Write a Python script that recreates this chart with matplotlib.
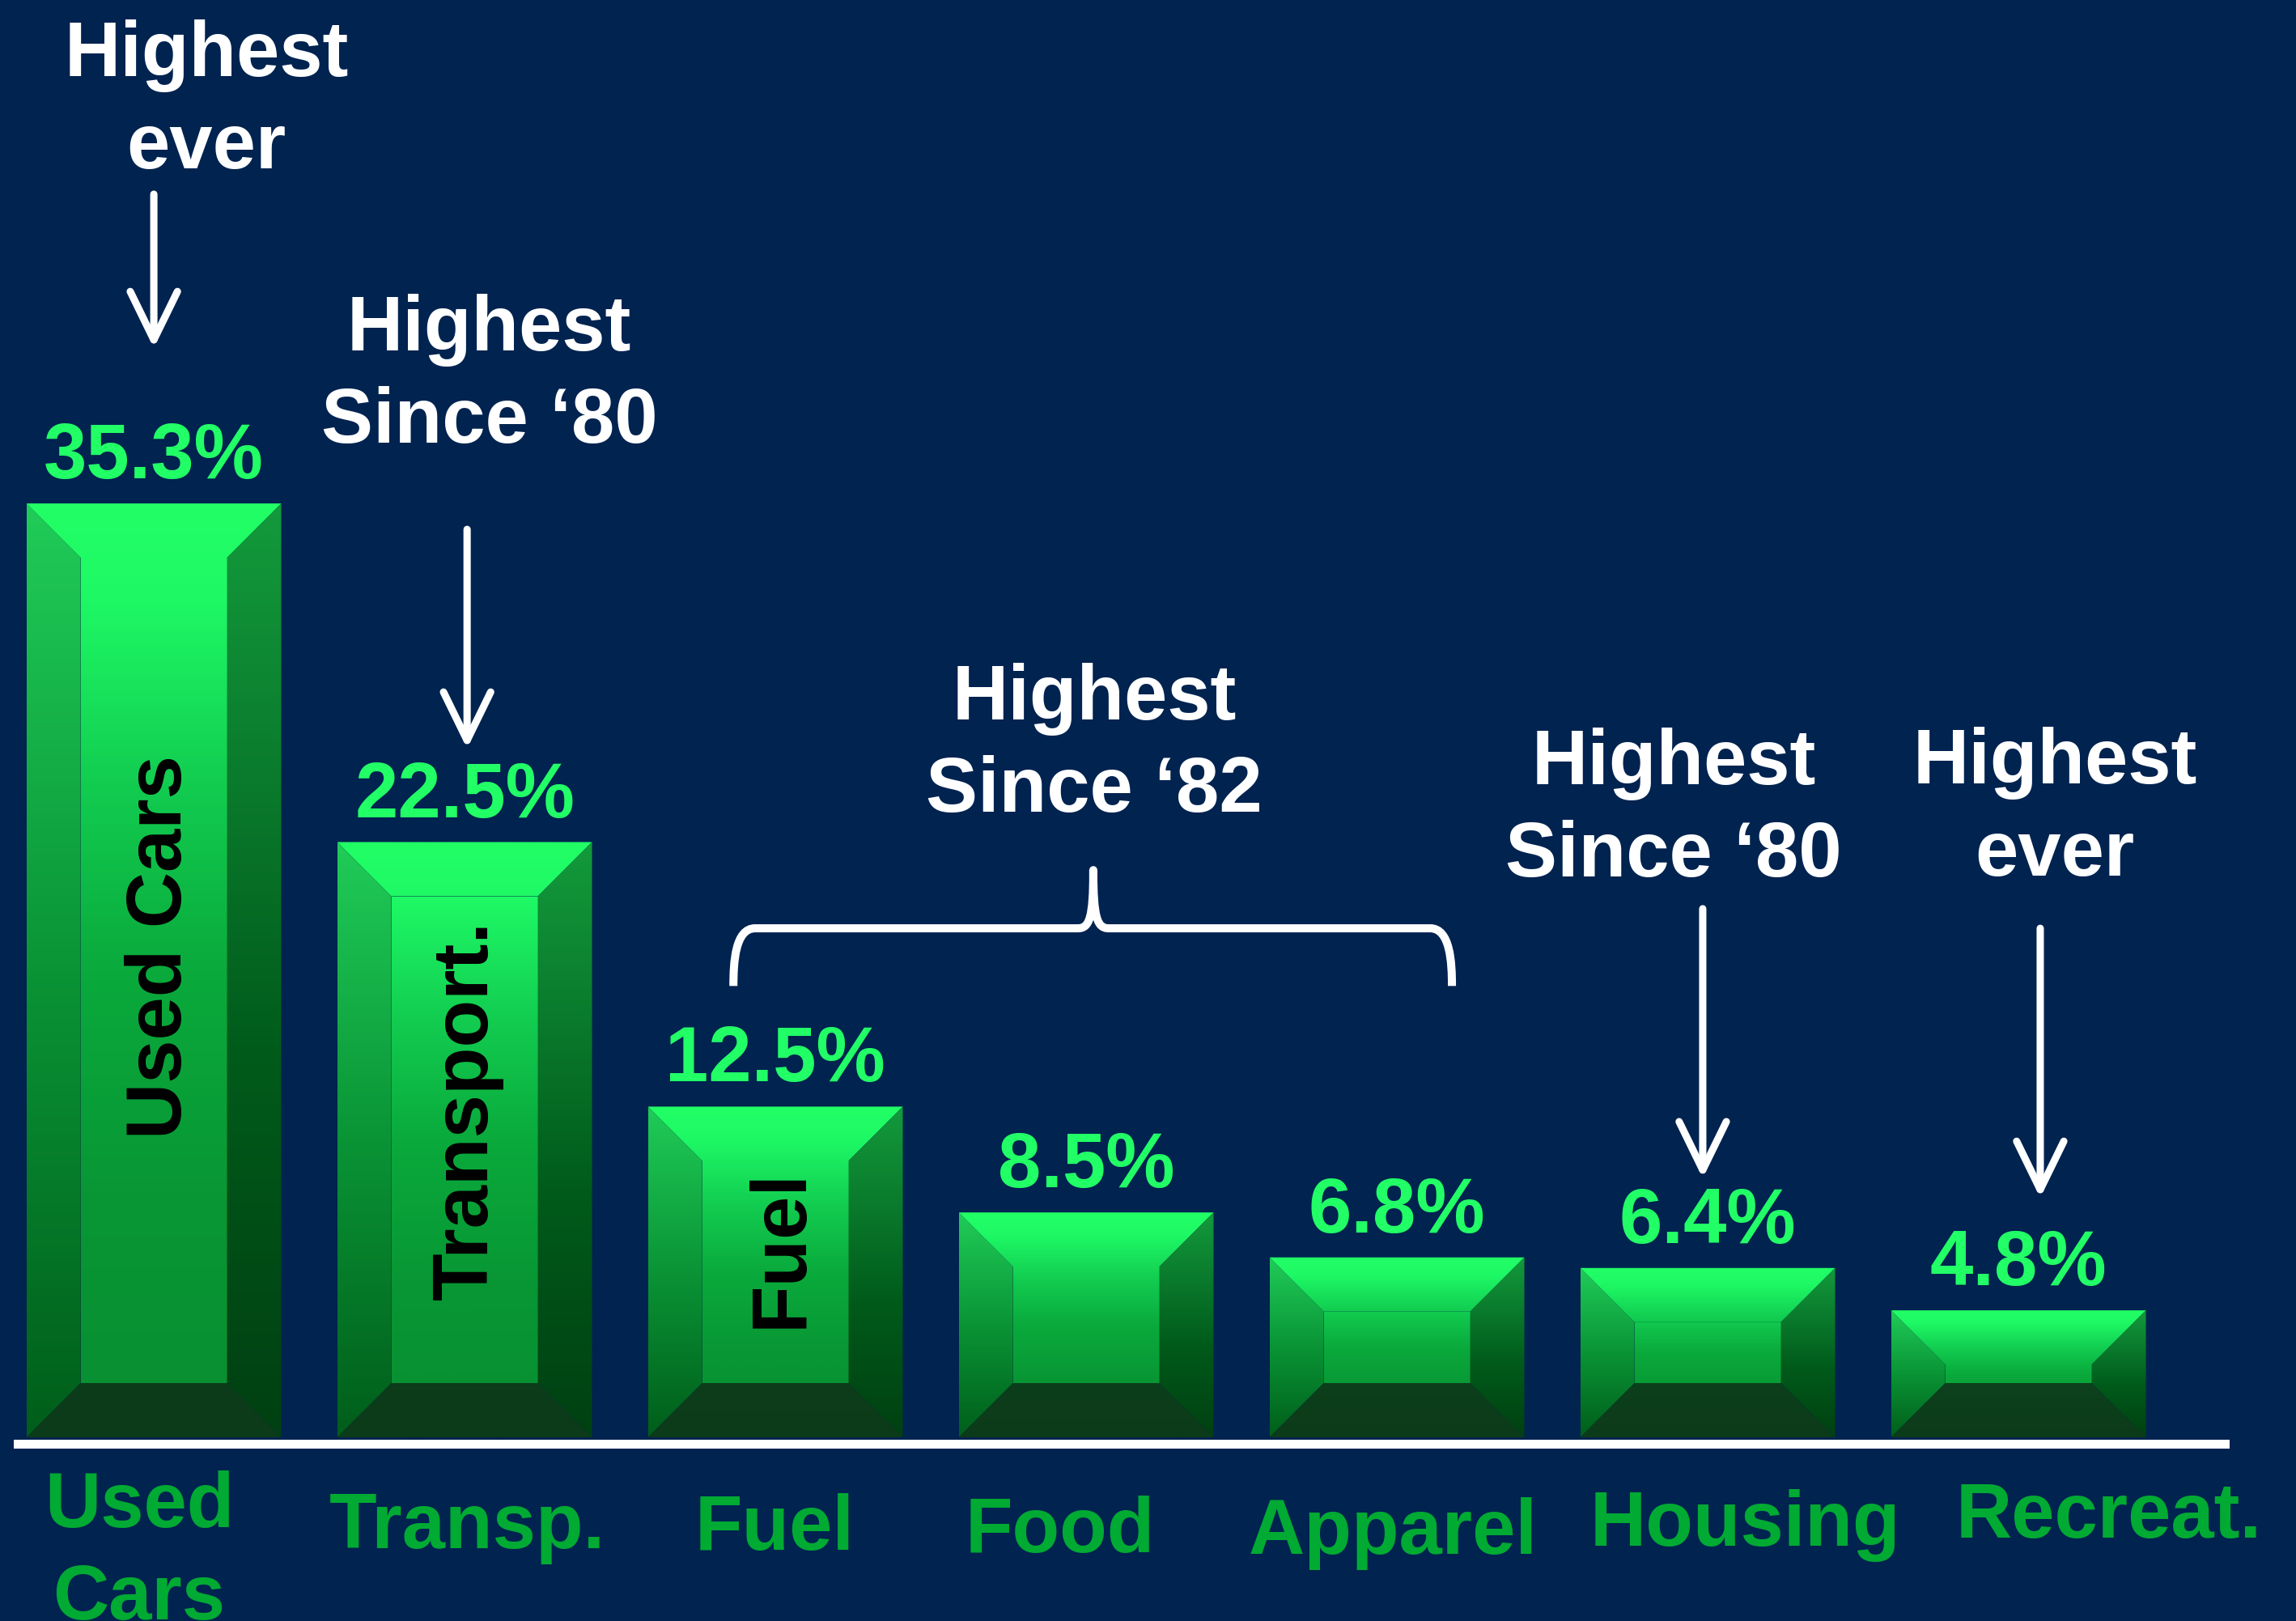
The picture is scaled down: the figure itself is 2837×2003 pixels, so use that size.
import numpy as np
import matplotlib
matplotlib.use('Agg')
import matplotlib.pyplot as plt
from matplotlib.patches import Polygon, PathPatch
from matplotlib.path import Path
from matplotlib.colors import LinearSegmentedColormap

plt.rcParams['font.family'] = ['Liberation Sans', 'DejaVu Sans']

# data
categories = ['Used\nCars', 'Transp.', 'Fuel', 'Food', 'Apparel', 'Housing', 'Recreat.']
values = [35.3, 22.5, 12.5, 8.5, 6.8, 6.4, 4.8]
value_labels = ['35.3%', '22.5%', '12.5%', '8.5%', '6.8%', '6.4%', '4.8%']
inner_labels = ['Used Cars', 'Transport.', 'Fuel', '', '', '', '']
notes = ['Highest\never', 'Highest\nSince \u201880', 'Highest\nSince \u201882',
         'Highest\nSince \u201880', 'Highest\never']

# layout (data units: x = bar index, y = percent)
note_pos = [(0.17, 51.45), (1.08, 41.08), (3.026, 27.13), (4.89, 24.69), (6.117, 24.72)]
arrows = [(0.0, 46.99, 41.17), (1.008, 34.32, 26.03), (4.984, 19.98, 9.79), (6.07, 19.24, 9.05)]
cat_dx = [-0.047, 0.008, -0.003, -0.083, -0.013, 0.12, 0.29]
cat_base = [-3.40, -4.19, -4.25, -4.34, -4.40, -4.10, -3.79]
inner_dx = [0.089, 0.073, 0.086]
inner_y = [18.54, 12.36, 7.15]
line_step = 3.49

bg = '#002350'
val_green = '#22FF66'
cat_green = '#00AA33'
fs = 69
bar_w = 0.82
bev_x = 0.1745
bev_y = 2.05

cm_center = LinearSegmentedColormap.from_list('c', [(0, '#088F32'), (0.25, '#089634'), (0.5, '#0AAA3C'),
                                                    (0.7, '#12CC50'), (0.9, '#1EF865'), (1, '#22FF66')])
cm_left = LinearSegmentedColormap.from_list('l', [(0, '#005E1A'), (0.5, '#0A9436'), (1, '#20CC58')])
cm_right = LinearSegmentedColormap.from_list('r', [(0, '#004012'), (0.4, '#005A1A'), (0.7, '#0A7A2C'), (1, '#139A3C')])
cm_bottom = LinearSegmentedColormap.from_list('b', ['#0C3B1A', '#0F4820'])
grad = np.linspace(0, 1, 256)[:, None]

fig = plt.figure(figsize=(28.37, 20.03), dpi=100, facecolor=bg)
ax = fig.add_axes([0, 0, 1, 1])
ax.set_facecolor(bg)
ax.axis('off')


def face(pts, cmap, x0, x1, h):
    patch = Polygon(pts, closed=True, facecolor='none', edgecolor='none')
    ax.add_patch(patch)
    im = ax.imshow(grad, cmap=cmap, extent=[x0, x1, 0, h], origin='lower',
                   aspect='auto', interpolation='bilinear', zorder=2)
    im.set_clip_path(patch)


for i, h in enumerate(values):
    x0, x1 = i - bar_w / 2, i + bar_w / 2
    ix0, ix1 = x0 + bev_x, x1 - bev_x
    iy0, iy1 = bev_y, h - bev_y
    face([(x0, h), (x1, h), (ix1, iy1), (ix0, iy1)], cm_center, x0, x1, h)
    face([(ix0, iy0), (ix1, iy0), (ix1, iy1), (ix0, iy1)], cm_center, x0, x1, h)
    face([(x0, 0), (x0, h), (ix0, iy1), (ix0, iy0)], cm_left, x0, x1, h)
    face([(x1, 0), (x1, h), (ix1, iy1), (ix1, iy0)], cm_right, x0, x1, h)
    face([(x0, 0), (x1, 0), (ix1, iy0), (ix0, iy0)], cm_bottom, x0, x1, h)

    ax.annotate(value_labels[i], (i, h), xytext=(0, 22.3), textcoords='offset points',
                ha='center', va='baseline', color=val_green, fontsize=fs, fontweight='bold', zorder=5)

    for k, line in enumerate(categories[i].split('\n')):
        ax.text(i + cat_dx[i], cat_base[i] - k * line_step, line, ha='center', va='baseline',
                color=cat_green, fontsize=fs, fontweight='bold', zorder=5)

for i, lbl in enumerate(inner_labels):
    if lbl:
        ax.text(i + inner_dx[i], inner_y[i], lbl, rotation=90, rotation_mode='anchor',
                ha='center', va='baseline', color='black', fontsize=fs, fontweight='bold', zorder=5)

for (nx, ny), note in zip(note_pos, notes):
    for k, line in enumerate(note.split('\n')):
        ax.text(nx, ny - k * line_step, line, ha='center', va='baseline',
                color='white', fontsize=fs, fontweight='bold', zorder=5)

for ax_x, y_start, y_tip in arrows:
    ax.annotate('', xy=(ax_x, y_tip), xytext=(ax_x, y_start),
                arrowprops=dict(arrowstyle='->,head_length=0.43,head_width=0.21', color='white',
                                lw=6.5, mutation_scale=100, shrinkA=0, shrinkB=0,
                                capstyle='round', joinstyle='round'), zorder=5)

# curly brace over Fuel..Apparel
xl, xr, xm = 1.865, 4.177, 3.023
yb, yh, yt = 17.06, 19.24, 21.44
verts = [(xl, yb), (xl, yh - 1.3), (xl + 0.005, yh), (xl + 0.07, yh),
         (xm - 0.05, yh),
         (xm - 0.012, yh), (xm, yh + 0.4), (xm, yt),
         (xm, yh + 0.4), (xm + 0.012, yh), (xm + 0.05, yh),
         (xr - 0.07, yh),
         (xr - 0.005, yh), (xr, yh - 1.3), (xr, yb)]
codes = [Path.MOVETO, Path.CURVE4, Path.CURVE4, Path.CURVE4,
         Path.LINETO,
         Path.CURVE4, Path.CURVE4, Path.CURVE4,
         Path.CURVE4, Path.CURVE4, Path.CURVE4,
         Path.LINETO,
         Path.CURVE4, Path.CURVE4, Path.CURVE4]
ax.add_patch(PathPatch(Path(verts, codes), facecolor='none', edgecolor='white', lw=7.2,
                       capstyle='butt', joinstyle='round', zorder=5))

ax.axhline(-0.23, xmin=0.00775, xmax=0.969, color='white', lw=7.9, zorder=6)

ax.set_xlim(-0.495, 6.893)
ax.set_ylim(-6.944, 54.33)

fig.savefig('out.png', dpi=100, facecolor=bg)
